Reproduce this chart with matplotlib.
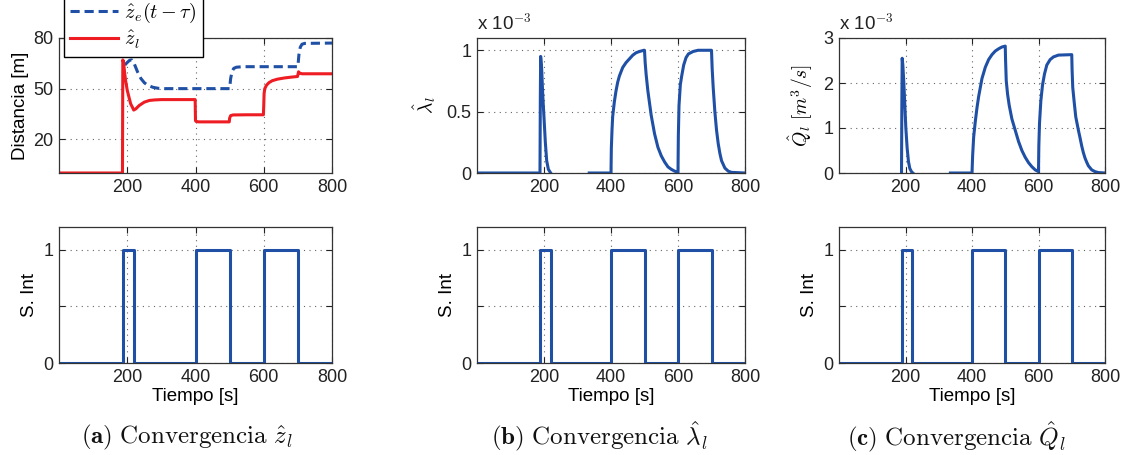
import numpy as np
import matplotlib
matplotlib.use("Agg")
import matplotlib.pyplot as plt

plt.rcParams['font.family'] = ['Liberation Sans', 'DejaVu Sans']
plt.rcParams['mathtext.fontset'] = 'cm'

# --- data ---
# distance estimates [m]
t_ze = [193, 200, 207, 213, 220, 230, 240, 250, 260, 275, 290, 310, 500, 503, 507,
        512, 520, 540, 700, 703, 707, 712, 720, 800]
ze = [64, 65.5, 66.8, 67, 65, 60, 56, 53.5, 52, 50.8, 50.2, 50, 50, 56, 60,
      62, 62.7, 63, 63, 70, 74.5, 76.3, 76.8, 77]

t_zl = [0, 186, 187, 189, 192, 195, 200, 205, 210, 215, 219, 225, 235, 250, 265,
        280, 300, 399, 400, 402, 410, 450, 499, 500, 503, 510, 550, 599, 600, 601,
        603, 608, 615, 625, 640, 660, 680, 699, 702, 705, 712, 800]
zl = [0, 0, 67, 66, 60, 55, 49, 45, 41, 39, 37.3, 38, 40, 42, 43,
      43.3, 43.5, 43.5, 31, 30.5, 30.3, 30.3, 30.3, 32.5, 34, 34.4, 34.5, 34.5, 40, 47,
      50, 52, 53.5, 54.7, 55.6, 56.3, 56.8, 57.2, 60, 59.2, 58.8, 58.8]

# lambda estimate (x 1e-3), nan = gap in the trace
t_lam = [0, 188, 189, 190, 193, 196, 200, 204, 208, 213, 220, 221,
         335, 400, 401, 403, 405, 410, 415, 420, 425, 435, 445, 455, 465, 475, 485, 498, 500,
         502, 505, 510, 520, 530, 540, 550, 560, 570, 580, 590, 600,
         601, 603, 607, 611, 617, 624, 631, 645, 660, 700,
         702, 705, 710, 715, 720, 725, 730, 740, 750, 760, 800]
lam = [0, 0, 0.6, 0.95, 0.85, 0.65, 0.45, 0.25, 0.1, 0.03, 0, np.nan,
       0, 0, 0.2, 0.35, 0.46, 0.58, 0.67, 0.74, 0.79, 0.86, 0.9, 0.93, 0.96, 0.98, 0.99, 1.0, 1.0,
       0.9, 0.8, 0.67, 0.47, 0.32, 0.21, 0.14, 0.09, 0.05, 0.03, 0.015, 0.005,
       0.3, 0.55, 0.72, 0.79, 0.88, 0.94, 0.97, 0.99, 1.0, 1.0,
       0.85, 0.7, 0.5, 0.35, 0.24, 0.16, 0.1, 0.04, 0.015, 0.005, 0]

# Q estimate (x 1e-3 m^3/s)
t_q = [188, 189, 190, 192, 195, 198, 201, 205, 209, 213, 218, 222, 223,
       335, 400, 402, 405, 410, 415, 420, 430, 440, 450, 460, 470, 480, 490, 500,
       501, 503, 507, 512, 520, 530, 540, 550, 560, 570, 580, 590, 600,
       601, 603, 607, 612, 618, 625, 635, 645, 660, 700,
       701, 703, 707, 712, 720, 725, 730, 735, 740, 745, 750, 760, 770, 780, 800]
q = [0, 1.5, 2.55, 2.4, 2.0, 1.5, 1.0, 0.55, 0.25, 0.1, 0.03, 0, np.nan,
     0, 0, 0.4, 0.8, 1.15, 1.45, 1.7, 2.1, 2.35, 2.52, 2.63, 2.71, 2.76, 2.8, 2.82,
     2.5, 2.05, 1.75, 1.5, 1.2, 0.95, 0.7, 0.5, 0.35, 0.23, 0.14, 0.07, 0.03,
     0.6, 1.1, 1.6, 1.95, 2.2, 2.4, 2.52, 2.58, 2.62, 2.63,
     2.3, 1.9, 1.6, 1.25, 0.95, 0.78, 0.6, 0.45, 0.33, 0.24, 0.16, 0.07, 0.03, 0.01, 0]

# integrator switch
t_sw = [0, 188, 220, 400, 500, 600, 700, 800]
sw = [0, 1, 0, 1, 0, 1, 0, 0]

blue = '#1f50a5'
red = '#ee1d23'

fig = plt.figure(figsize=(11.25, 4.55), dpi=100)
W, H = 1125.0, 455.0
cols = [(59, 273), (477, 268), (839, 266)]
rows = [(38, 135), (227, 136)]


def make_ax(c, r):
    x0, w = cols[c]
    y0, h = rows[r]
    ax = fig.add_axes([x0 / W, 1 - (y0 + h) / H, w / W, h / H])
    ax.set_xlim(0, 800)
    ax.set_xticks([200, 400, 600, 800])
    ax.tick_params(direction='in', top=True, right=True, length=4, width=0.8,
                   labelsize=13, colors='#222222', pad=4)
    ax.grid(True, linestyle=(0, (1, 4)), color='#666666', linewidth=0.8)
    for s in ax.spines.values():
        s.set_linewidth(0.9)
        s.set_color('#333333')
    return ax


# (a) distances
ax = make_ax(0, 0)
ax.plot(t_ze, ze, color=blue, lw=2.2, linestyle=(0, (3, 1.6)), label=r'$\hat{z}_e(t-\tau)$')
ax.plot(t_zl, zl, color=red, lw=2.2, label=r'$\hat{z}_l$')
ax.set_ylim(0, 80)
ax.set_yticks([20, 50, 80])
ax.set_ylabel('Distancia [m]', fontsize=13.5, labelpad=3)
ax.legend(loc='lower left', bbox_to_anchor=(64 / W, 1 - 57 / H), bbox_transform=fig.transFigure,
          fontsize=14.5, fancybox=False, framealpha=1, edgecolor='black', handlelength=2.4,
          handletextpad=0.3, labelspacing=0.2, borderpad=0.3, borderaxespad=0)

# (b) lambda
ax = make_ax(1, 0)
ax.plot(t_lam, lam, color=blue, lw=2.2)
ax.set_ylim(0, 1.1)
ax.set_yticks([0, 0.5, 1])
ax.set_yticklabels(['0', '0.5', '1'])
ax.set_ylabel(r'$\hat{\lambda}_l$', fontsize=14, labelpad=6)
ax.text(0, 1.03, r'x 10$^{-3}$', transform=ax.transAxes, fontsize=13.5, color='#222222',
        ha='left', va='bottom')

# (c) Q
ax = make_ax(2, 0)
ax.plot(t_q, q, color=blue, lw=2.2)
ax.set_ylim(0, 3)
ax.set_yticks([0, 1, 2, 3])
ax.set_ylabel(r'$\hat{Q}_l\ [m^3/s]$', fontsize=14, labelpad=6)
ax.text(0, 1.03, r'x 10$^{-3}$', transform=ax.transAxes, fontsize=13.5, color='#222222',
        ha='left', va='bottom')

# switches
for c in range(3):
    ax = make_ax(c, 1)
    ax.plot(t_sw, sw, color=blue, lw=2.2, drawstyle='steps-post')
    ax.set_ylim(0, 1.2)
    ax.set_yticks([0, 0.5, 1])
    ax.set_yticklabels(['0', '', '1'])
    ax.set_ylabel('S. Int', fontsize=13.5, labelpad=4)
    ax.set_xlabel('Tiempo [s]', fontsize=13.5, labelpad=2)

captions = [r'$\mathbf{(a)}\ \mathrm{Convergencia}\ \hat{z}_l$',
            r'$\mathbf{(b)}\ \mathrm{Convergencia}\ \hat{\lambda}_l$',
            r'$\mathbf{(c)}\ \mathrm{Convergencia}\ \hat{Q}_l$']
cap_x = [187, 599, 957]
for cx, cap in zip(cap_x, captions):
    fig.text(cx / W, 1 - 437 / H, cap, fontsize=18, ha='center', va='center', color='#111111')

fig.savefig('out.png', dpi=100)
